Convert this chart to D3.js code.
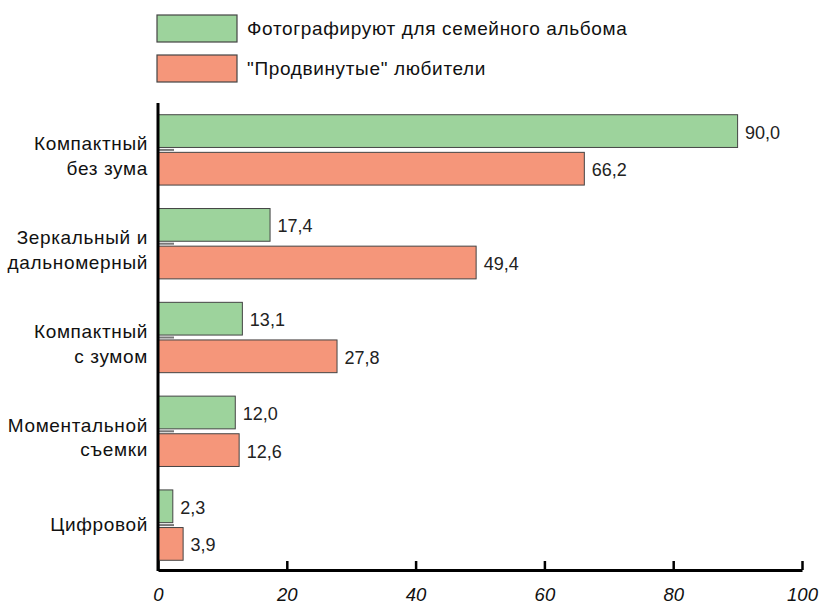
<!DOCTYPE html>
<html>
<head>
<meta charset="utf-8">
<script src="https://cdn.jsdelivr.net/npm/d3@7"></script>
<style>
  html, body { margin: 0; padding: 0; background: #fff; }
  svg { display: block; font-family: "Liberation Sans", Arial, Helvetica, sans-serif; }
</style>
</head>
<body>
<svg id="chart" width="823" height="608"></svg>
<script>
// ---- data ----
const categories = [
  ["Компактный", "без зума"],
  ["Зеркальный и", "дальномерный"],
  ["Компактный", "с зумом"],
  ["Моментальной", "съемки"],
  ["Цифровой"]
];
const seriesNames = ["Фотографируют для семейного альбома", "\"Продвинутые\" любители"];
const familyValues = [90.0, 17.4, 13.1, 12.0, 2.3];
const advancedValues = [66.2, 49.4, 27.8, 12.6, 3.9];
const xTicks = [0, 20, 40, 60, 80, 100];
const seriesColors = ["#9dd39c", "#f5967a"];

// ---- layout ----
(function () {
const svg = d3.select("#chart");
const mLeft = 158, mRight = 802, mTop = 103, mBottom = 570;
const catKeys = categories.map(c => c.join(" "));
const values = [familyValues, advancedValues];

const x = d3.scaleLinear().domain([0, 100]).range([mLeft, mRight]);
const y0 = d3.scaleBand().domain(catKeys).range([mTop, 572]).paddingInner(0.25).paddingOuter(0.125);
const y1 = d3.scaleBand().domain(seriesNames).range([0, y0.bandwidth()]).paddingInner(0.13);

// y axis ticks (gray, inward) drawn behind bars
const yAxis = d3.axisLeft(y0).tickSize(-16).tickSizeOuter(0).tickFormat("");
const yg = svg.append("g").attr("transform", `translate(${mLeft},0)`).call(yAxis);
yg.select(".domain").remove();
yg.selectAll(".tick line").attr("stroke", "#777").attr("stroke-width", 2);

// category labels
categories.forEach((lines, i) => {
  const c = y0(catKeys[i]) + y0.bandwidth() / 2;
  const t = svg.append("text")
    .attr("x", 148)
    .attr("text-anchor", "end")
    .attr("font-size", 19)
    .attr("letter-spacing", 0.65)
    .attr("fill", "#111");
  if (lines.length === 1) {
    t.append("tspan").attr("x", 148).attr("y", c + 6).text(lines[0]);
  } else {
    t.append("tspan").attr("x", 148).attr("y", c + 0.5).text(lines[0]);
    t.append("tspan").attr("x", 148).attr("y", c + 25).text(lines[1]);
  }
});

// bars
seriesNames.forEach((s, si) => {
  const g = svg.append("g");
  g.selectAll("rect")
    .data(values[si])
    .join("rect")
    .attr("x", x(0))
    .attr("y", (d, i) => y0(catKeys[i]) + y1(s))
    .attr("width", d => x(d) - x(0))
    .attr("height", y1.bandwidth())
    .attr("fill", seriesColors[si])
    .attr("stroke", "#444")
    .attr("stroke-width", 1);
  g.selectAll("text")
    .data(values[si])
    .join("text")
    .attr("x", d => x(d) + 7.5)
    .attr("y", (d, i) => y0(catKeys[i]) + y1(s) + y1.bandwidth() / 2 + 7.5)
    .attr("font-size", 18)
    .attr("fill", "#222")
    .text(d => d.toFixed(1).replace(".", ","));
});

// y axis line on top
svg.append("line")
  .attr("x1", mLeft).attr("x2", mLeft)
  .attr("y1", mTop).attr("y2", mBottom + 1)
  .attr("stroke", "#000").attr("stroke-width", 3);

// x axis
const xAxis = d3.axisBottom(x).tickValues(xTicks).tickSize(-9).tickSizeOuter(0).tickPadding(20);
const xg = svg.append("g").attr("transform", `translate(0,${mBottom})`).call(xAxis);
xg.select(".domain").attr("stroke", "#000").attr("stroke-width", 3);
xg.selectAll(".tick line").attr("stroke", "#000").attr("stroke-width", 2.5);
xg.selectAll(".tick text")
  .attr("font-size", 18.5)
  .attr("font-style", "italic")
  .attr("font-family", "\"Liberation Sans\", Arial, sans-serif")
  .attr("fill", "#111")
  .attr("dy", "0.71em")
  .attr("y", 18);

// legend
seriesNames.forEach((s, i) => {
  const ly = 15 + i * 40;
  svg.append("rect")
    .attr("x", 157).attr("y", ly).attr("width", 80).attr("height", 27)
    .attr("fill", seriesColors[i]).attr("stroke", "#444").attr("stroke-width", 1.2);
  svg.append("text")
    .attr("x", 247).attr("y", ly + 13.5 + 6.8)
    .attr("font-size", 19).attr("letter-spacing", 0.65).attr("fill", "#111")
    .text(s);
});
})();
</script>
</body>
</html>
